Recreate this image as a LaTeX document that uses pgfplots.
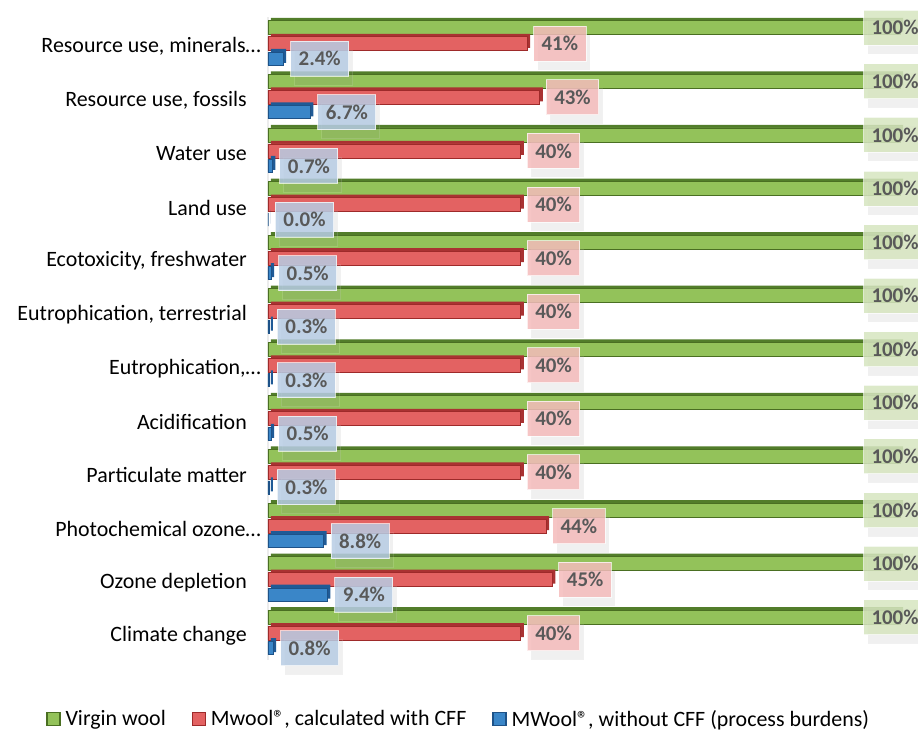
\documentclass[border=0pt]{standalone}
\usepackage{fontspec}
\setmainfont{Carlito}
\usepackage{pgfplots}
\pgfplotsset{compat=1.18}
\usepackage{pgfplotstable}
\usetikzlibrary{shadows}

\definecolor{vgreen}{HTML}{93C25A}
\definecolor{vgreenD}{HTML}{527D2A}
\definecolor{vgreenO}{HTML}{4A6F22}
\definecolor{vred}{HTML}{E36262}
\definecolor{vredD}{HTML}{A93232}
\definecolor{vredO}{HTML}{9E2A2A}
\definecolor{vblue}{HTML}{3A86C8}
\definecolor{vblueD}{HTML}{1F5A96}
\definecolor{vblueO}{HTML}{1D5288}
\definecolor{labgray}{HTML}{595959}
\definecolor{labgreen}{HTML}{D6E5C0}
\definecolor{labred}{HTML}{F4BBBB}
\definecolor{labblue}{HTML}{B7CCE4}

% rows from bottom (Climate change) to top (Resource use, minerals)
\pgfplotstableread{
cat green red blue
0  100 40 0.8
1  100 45 9.4
2  100 44 8.8
3  100 40 0.3
4  100 40 0.5
5  100 40 0.3
6  100 40 0.3
7  100 40 0.5
8  100 40 0.0
9  100 40 0.7
10 100 43 6.7
11 100 41 2.4
}\datatable

\tikzset{
  lab/.style={font=\bfseries\fontsize{21}{22}\selectfont, text=labgray,
    inner xsep=8bp, inner ysep=0pt, minimum height=35bp, anchor=west,
    text opacity=1, fill opacity=0.85, draw=white, draw opacity=0.7,
    line width=1bp,
    drop shadow={opacity=0.12, shadow xshift=4bp, shadow yshift=-9bp}},
}

\begin{document}
\begin{tikzpicture}
\begin{axis}[
  scale only axis,
  width=632bp, height=643bp,
  xmin=0, xmax=100, ymin=-0.5, ymax=11.5,
  xbar, bar width=14bp,
  axis x line=none,
  axis y line*=left,
  y axis line style={draw=gray!15, line width=1.5bp},
  major tick length=0pt,
  ytick={0,...,11},
  yticklabels={
    {Climate change},
    {Ozone depletion},
    {Photochemical ozone…\hspace*{-14bp}},
    {Particulate matter},
    {Acidification},
    {Eutrophication,…\hspace*{-14bp}},
    {Eutrophication, terrestrial},
    {Ecotoxicity, freshwater},
    {Land use},
    {Water use},
    {Resource use, fossils},
    {Resource use, minerals…\hspace*{-14bp}}},
  yticklabel style={font=\fontsize{22}{24}\selectfont, inner sep=0pt,
    xshift=-21bp, yshift=-3bp},
  clip=false,
  point meta=x,
  /pgf/number format/assume math mode=true,
  legend columns=3,
  legend image code/.code={%
    \draw[#1, line width=1.2bp] (0bp,-6.5bp) rectangle (13bp,6.5bp);},
  legend style={at={(-0.351,-0.0918)}, anchor=west,
    font=\fontsize{22}{24}\selectfont, draw=none, fill=none,
    inner sep=0pt, nodes={inner sep=0pt},
    /tikz/every odd column/.append style={column sep=5bp},
    /tikz/every even column/.append style={column sep=26bp}},
]
\coordinate (bl) at (rel axis cs:0,0);
\coordinate (tr) at (rel axis cs:1,1);

% Virgin wool
\addplot[xbar, forget plot, bar shift=19bp, xshift=3bp, fill=vgreenD, draw=none]
  table[x=green, y=cat] {\datatable};
\addplot[xbar, bar shift=16bp, fill=vgreen, draw=vgreenO, line width=0.8bp,
  nodes near coords={\pgfmathprintnumber[fixed,precision=0]{\pgfplotspointmeta}\%},
  every node near coord/.append style={lab, fill=labgreen, xshift=-37bp}]
  table[x=green, y=cat] {\datatable};
\addlegendentry{Virgin wool}

% Mwool with CFF
\addplot[xbar, forget plot, bar shift=3bp, xshift=3bp, fill=vredD, draw=none]
  table[x=red, y=cat] {\datatable};
\addplot[xbar, bar shift=0bp, fill=vred, draw=vredO, line width=0.8bp,
  nodes near coords={\pgfmathprintnumber[fixed,precision=0]{\pgfplotspointmeta}\%},
  every node near coord/.append style={lab, fill=labred, xshift=6bp}]
  table[x=red, y=cat] {\datatable};
\addlegendentry{Mwool®, calculated with CFF}

% MWool without CFF
\addplot[xbar, forget plot, bar shift=-12bp, xshift=3bp, fill=vblueD, draw=none]
  table[x=blue, y=cat] {\datatable};
\addplot[xbar, bar shift=-15bp, bar width=13bp, fill=vblue, draw=vblueO, line width=0.8bp,
  nodes near coords={\pgfmathprintnumber[fixed,fixed zerofill,precision=1]{\pgfplotspointmeta}\%},
  every node near coord/.append style={lab, fill=labblue, xshift=7bp}]
  table[x=blue, y=cat] {\datatable};
\addlegendentry{MWool®, without CFF (process burdens)}
\end{axis}
\pgfresetboundingbox
\path[use as bounding box] ([xshift=-268bp,yshift=-71bp]bl) rectangle ([xshift=18bp,yshift=17bp]tr);
\end{tikzpicture}
\end{document}
